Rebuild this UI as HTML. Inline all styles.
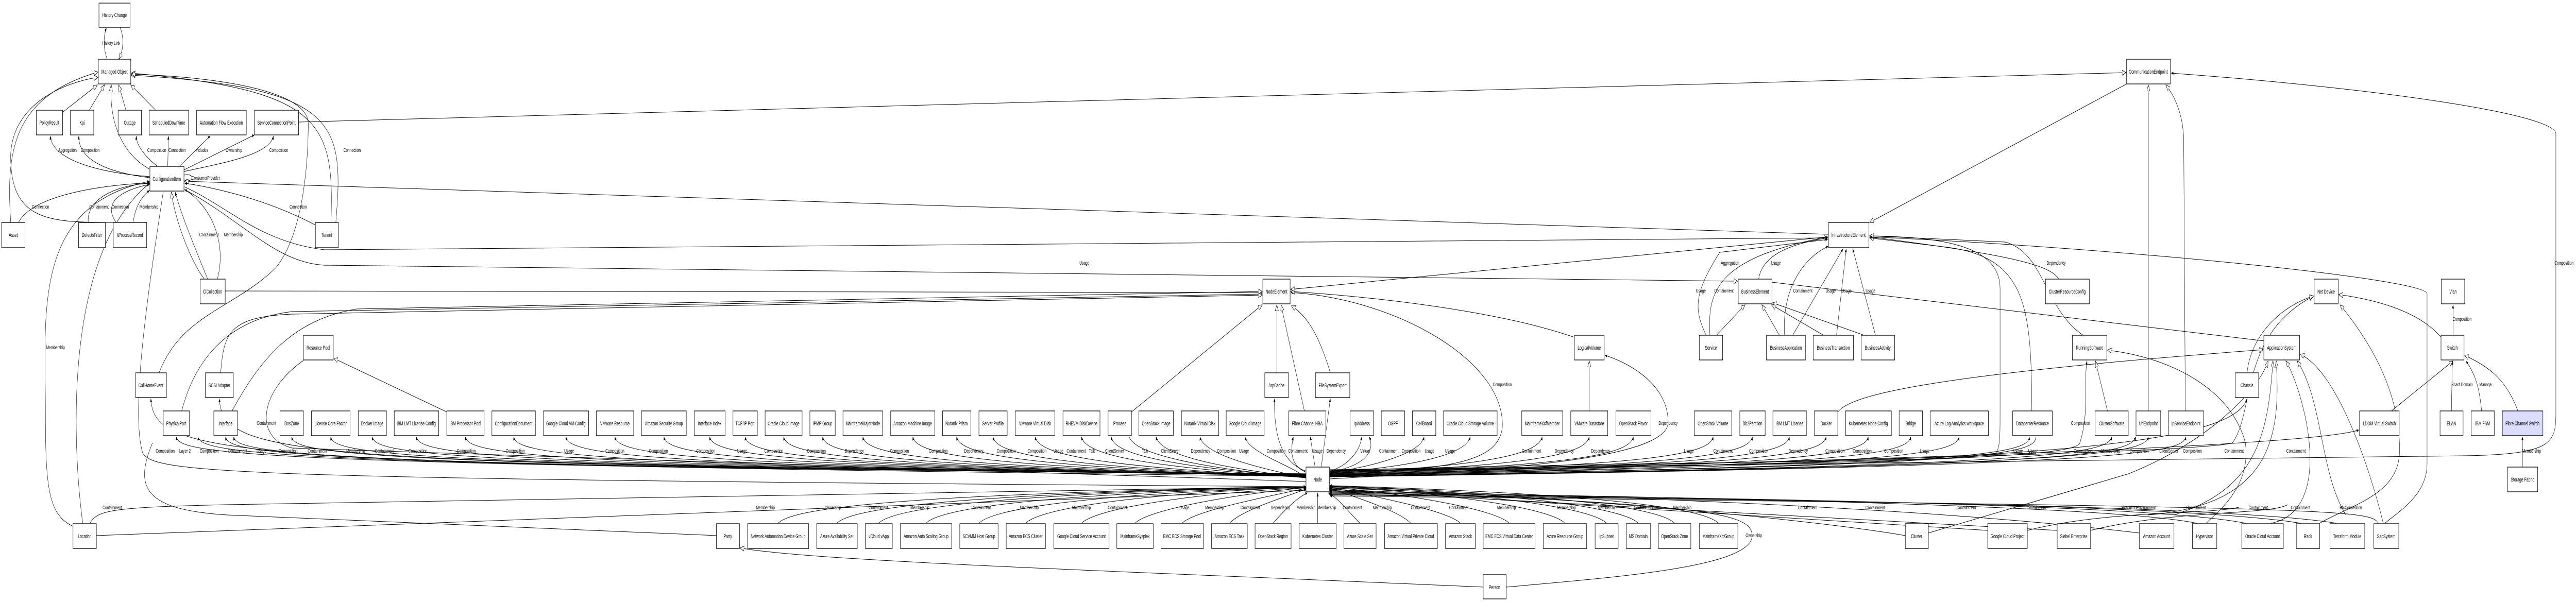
<!DOCTYPE html>
<html><head><meta charset="utf-8"><style>
html,body{margin:0;padding:0;background:#fff;overflow:hidden;width:100%;height:100%}
svg{display:block;width:100vw;height:100vh}
.b{fill:#fff;stroke:#000;stroke-width:1.3}
.t{font-family:"Liberation Sans",Arial,sans-serif;font-size:11px;text-anchor:middle;fill:#000}
.l{font-family:"Liberation Sans",Arial,sans-serif;font-size:10.5px;text-anchor:middle;fill:#000}
.e path,.e line{fill:none;stroke:#000;stroke-width:1}
</style></head><body>
<svg width="7939" height="1169" viewBox="0 0 7939 1169" preserveAspectRatio="none" xmlns="http://www.w3.org/2000/svg">
<defs>
<marker id="f" markerWidth="8" markerHeight="8" refX="7" refY="3" orient="auto" markerUnits="userSpaceOnUse"><path d="M0,0 L7,3 L0,6 z" fill="#000"/></marker>
<marker id="h" markerWidth="14" markerHeight="12" refX="12" refY="5" orient="auto" markerUnits="userSpaceOnUse"><path d="M0,0 L12,5 L0,10 z" fill="#fff" stroke="#000" stroke-width="1"/></marker>
</defs>
<rect width="7939" height="1169" fill="#fff"/>
<g class="e">
<path d="M330,115 C318,92 318,72 328,54" marker-end="url(#f)"/>
<path d="M370,53 C382,72 382,95 366,115" marker-end="url(#h)"/>
<path d="M193,218 L300,165" marker-end="url(#h)"/>
<path d="M275,214 L322,165" marker-end="url(#h)"/>
<path d="M388,214 L366,165" marker-end="url(#h)"/>
<path d="M480,214 L403,165" marker-end="url(#h)"/>
<path d="M460,328 C380,300 335,240 343,165" marker-end="url(#h)"/>
<path d="M33,432 C20,300 30,190 302,140" marker-end="url(#h)"/>
<path d="M352,432 C150,432 30,430 33,300 C40,200 200,160 302,150" marker-end="url(#h)"/>
<path d="M1020,432 C1030,240 1000,175 405,142" marker-end="url(#h)"/>
<path d="M1035,432 C1060,240 1050,170 405,146" marker-end="url(#h)"/>
<path d="M490,724 C560,610 720,600 850,520 C940,450 950,300 950,240 C950,180 700,150 405,144" marker-end="url(#h)"/>
<path d="M462,343 C300,335 160,310 155,264" marker-end="url(#f)"/>
<path d="M462,345 C330,335 240,310 243,264" marker-end="url(#f)"/>
<path d="M485,323 C440,300 420,280 420,264" marker-end="url(#f)"/>
<path d="M517,323 L519,264" marker-end="url(#f)"/>
<path d="M553,323 L648,264" marker-end="url(#f)"/>
<path d="M567,330 L784,262" marker-end="url(#f)"/>
<path d="M567,333 C700,315 830,300 843,264" marker-end="url(#f)"/>
<path d="M567,340 C600,335 600,355 569,350" marker-end="url(#f)"/>
<path d="M57,432 C100,380 300,360 461,355" marker-end="url(#f)"/>
<path d="M272,432 C265,380 380,358 461,356" marker-end="url(#f)"/>
<path d="M358,432 C300,380 430,362 461,358" marker-end="url(#f)"/>
<path d="M410,432 C420,390 450,375 461,370" marker-end="url(#f)"/>
<path d="M972,437 C800,380 620,360 569,356" marker-end="url(#f)"/>
<path d="M630,542 C590,510 540,430 528,373" marker-end="url(#h)"/>
<path d="M640,542 C600,480 560,420 540,373" marker-end="url(#f)"/>
<path d="M670,542 C700,470 650,400 569,368" marker-end="url(#f)"/>
<path d="M225,1022 C150,1000 140,950 140,800 C140,600 100,400 461,352" marker-end="url(#f)"/>
<path d="M255,1016 C230,900 180,500 461,356" marker-end="url(#f)"/>
<path d="M503,373 C460,550 400,800 440,880 C480,920 700,930 4025,945" />
<path d="M277,1016 C300,990 350,985 700,980 L4025,945" marker-end="url(#f)"/>
<path d="M297,1040 L4025,952"/>
<path d="M920,237 L6552,141" marker-end="url(#h)"/>
<path d="M5635,455 L569,352" marker-end="url(#h)"/>
<path d="M569,363 C700,400 800,470 1000,485 L5633,462" marker-end="url(#h)"/>
<path d="M569,368 C750,430 850,510 1000,515 L5355,546" marker-end="url(#h)"/>
<path d="M694,565 L3890,568" marker-end="url(#h)"/>
<path d="M560,798 C600,700 700,620 900,605 L3890,571" marker-end="url(#h)"/>
<path d="M680,724 C690,650 700,615 900,610 L3890,573" marker-end="url(#h)"/>
<path d="M715,798 C800,700 900,620 1100,600 L3890,566" marker-end="url(#h)"/>
<path d="M1377,800 L1029,696" marker-end="url(#h)"/>
<path d="M935,700 C800,760 780,850 900,870 L4025,935"/>
<path d="M2208,1040 L700,1000 C450,990 410,950 470,860"/>
<path d="M4571,1140 C3500,1110 2500,1090 2281,1064" marker-end="url(#h)"/>
<path d="M4642,1140 C5000,1120 5400,1100 5400,1040 C5400,990 5200,980 4098,950" marker-end="url(#f)"/>
<path d="M4025,920 C693,905 553,880 543,848" marker-end="url(#f)"/>
<path d="M4025,920 C800,905 620,880 610,848" marker-end="url(#f)"/>
<path d="M4025,920 C845,905 705,880 695,848" marker-end="url(#f)"/>
<path d="M4025,921 C900,905 730,880 720,848" marker-end="url(#f)"/>
<path d="M4025,921 C1049,905 909,880 899,848" marker-end="url(#f)"/>
<path d="M4025,921 C1169,905 1029,880 1019,848" marker-end="url(#f)"/>
<path d="M4025,922 C1297,905 1157,880 1147,848" marker-end="url(#f)"/>
<path d="M4025,922 C1433,905 1293,880 1283,848" marker-end="url(#f)"/>
<path d="M4025,922 C1584,905 1444,880 1434,848" marker-end="url(#f)"/>
<path d="M4025,923 C1733,905 1593,880 1583,848" marker-end="url(#f)"/>
<path d="M4025,923 C1894,905 1754,880 1744,848" marker-end="url(#f)"/>
<path d="M4025,923 C2045,905 1905,880 1895,848" marker-end="url(#f)"/>
<path d="M4025,924 C2196,905 2056,880 2046,848" marker-end="url(#f)"/>
<path d="M4025,924 C2337,905 2197,880 2187,848" marker-end="url(#f)"/>
<path d="M4025,924 C2446,905 2306,880 2296,848" marker-end="url(#f)"/>
<path d="M4025,925 C2565,905 2425,880 2415,848" marker-end="url(#f)"/>
<path d="M4025,925 C2685,905 2545,880 2535,848" marker-end="url(#f)"/>
<path d="M4025,925 C2809,905 2669,880 2659,848" marker-end="url(#f)"/>
<path d="M4025,926 C2963,905 2823,880 2813,848" marker-end="url(#f)"/>
<path d="M4025,926 C3098,905 2958,880 2948,848" marker-end="url(#f)"/>
<path d="M4025,926 C3210,905 3070,880 3060,848" marker-end="url(#f)"/>
<path d="M4025,927 C3340,905 3200,880 3190,848" marker-end="url(#f)"/>
<path d="M4025,927 C3483,905 3343,880 3333,848" marker-end="url(#f)"/>
<path d="M4025,927 C3580,905 3430,880 3425,848" marker-end="url(#f)"/>
<path d="M3480,848 C3500,890 3800,915 4025,928"/>
<path d="M4025,928 C3713,905 3573,880 3563,848" marker-end="url(#f)"/>
<path d="M4025,928 C3848,905 3708,880 3698,848" marker-end="url(#f)"/>
<path d="M4025,928 C3987,905 3847,880 3837,848" marker-end="url(#f)"/>
<path d="M4025,915 C3960,900 3925,860 3928,774" marker-end="url(#f)"/>
<path d="M4025,917 C3980,905 3975,880 3986,848" marker-end="url(#f)"/>
<path d="M4053,907 L4038,848" marker-end="url(#f)"/>
<path d="M4072,907 L4100,774" marker-end="url(#f)"/>
<path d="M4025,925 C700,900 475,890 465,774" marker-end="url(#f)"/>
<path d="M4025,922 C900,900 686,890 676,774" marker-end="url(#f)"/>
<path d="M4098,915 C4150,905 4190,880 4197,848" marker-end="url(#f)"/>
<path d="M4098,917 C4200,905 4240,880 4220,848" marker-end="url(#f)"/>
<path d="M4098,918 C4239,905 4379,880 4389,848" marker-end="url(#f)"/>
<path d="M4098,918 C4381,905 4521,880 4531,848" marker-end="url(#f)"/>
<path d="M4098,919 C4603,905 4743,880 4753,848" marker-end="url(#f)"/>
<path d="M4098,919 C4748,905 4888,880 4898,848" marker-end="url(#f)"/>
<path d="M4098,920 C4884,905 5024,880 5034,848" marker-end="url(#f)"/>
<path d="M4098,920 C5130,905 5270,880 5280,848" marker-end="url(#f)"/>
<path d="M4098,921 C5251,905 5391,880 5401,848" marker-end="url(#f)"/>
<path d="M4098,921 C5365,905 5505,880 5515,848" marker-end="url(#f)"/>
<path d="M4098,922 C5478,905 5618,880 5628,848" marker-end="url(#f)"/>
<path d="M4098,922 C5608,905 5748,880 5758,848" marker-end="url(#f)"/>
<path d="M4098,923 C5739,905 5879,880 5889,848" marker-end="url(#f)"/>
<path d="M4098,923 C5888,905 6028,880 6038,848" marker-end="url(#f)"/>
<path d="M4098,924 C6114,905 6254,880 6254,848" marker-end="url(#f)"/>
<path d="M4098,924 C6200,905 6270,880 6275,848"/>
<path d="M4098,925 C6358,905 6498,880 6508,848" marker-end="url(#f)"/>
<path d="M4098,925 C6471,905 6611,880 6621,848" marker-end="url(#f)"/>
<path d="M4098,926 C6587,905 6727,880 6737,848" marker-end="url(#f)"/>
<path d="M4098,926 C6500,905 6560,880 6583,848" marker-end="url(#f)"/>
<path d="M4098,915 C5500,900 7100,870 7270,835" marker-end="url(#f)"/>
<path d="M4098,916 C6000,900 6880,880 6925,774" marker-end="url(#f)"/>
<path d="M4098,912 L7600,885 C7870,882 7877,860 7877,800 L7877,260 C7877,220 7300,170 6691,142" marker-end="url(#f)"/>
<path d="M4098,918 C4500,915 4620,890 4630,830 C4640,700 4300,580 3978,568" marker-end="url(#f)"/>
<path d="M4098,930 C4500,915 5141,900 5141,820 C5141,740 5000,700 4946,690" marker-end="url(#f)"/>
<path d="M4098,914 C5000,895 6100,900 6150,880 C6164,870 6164,850 6164,800 L6164,560 C6164,480 6000,460 5762,458" marker-end="url(#h)"/>
<path d="M4098,915 C5800,900 6400,890 6410,860 C6440,800 6420,750 6432,701" marker-end="url(#f)"/>
<path d="M4098,914 C5000,905 6800,880 6880,860 C6950,800 6900,650 7130,575" marker-end="url(#h)"/>
<path d="M2398,1016 C2438,990 2698,960 4025,945" marker-end="url(#f)"/>
<path d="M2579,1016 C2619,990 2879,960 4025,945" marker-end="url(#f)"/>
<path d="M2708,1016 C2748,990 3008,960 4025,945" marker-end="url(#f)"/>
<path d="M2854,1016 C2894,990 3154,960 4025,946" marker-end="url(#f)"/>
<path d="M3017,1016 C3057,990 3317,960 4025,946" marker-end="url(#f)"/>
<path d="M3161,1016 C3201,990 3461,960 4025,946" marker-end="url(#f)"/>
<path d="M3333,1016 C3373,990 3633,960 4025,947" marker-end="url(#f)"/>
<path d="M3498,1016 C3538,990 3798,960 4025,947" marker-end="url(#f)"/>
<path d="M3643,1016 C3683,990 3943,960 4025,948" marker-end="url(#f)"/>
<path d="M3789,1016 C3829,990 3960,965 4025,950" marker-end="url(#f)"/>
<path d="M3923,1016 C3960,990 4000,965 4030,957" marker-end="url(#f)"/>
<path d="M4061,1016 L4061,957" marker-end="url(#f)"/>
<path d="M4191,1016 C4151,990 4120,965 4093,957" marker-end="url(#f)"/>
<path d="M4348,1016 C4308,990 4150,960 4098,948" marker-end="url(#f)"/>
<path d="M4501,1016 C4461,990 4201,960 4098,946" marker-end="url(#f)"/>
<path d="M4651,1016 C4611,990 4351,960 4098,946" marker-end="url(#f)"/>
<path d="M4823,1016 C4783,990 4523,960 4098,945" marker-end="url(#f)"/>
<path d="M4951,1016 C4911,990 4651,960 4098,945" marker-end="url(#f)"/>
<path d="M5049,1016 C5009,990 4749,960 4098,944" marker-end="url(#f)"/>
<path d="M5161,1016 C5121,990 4861,960 4098,944" marker-end="url(#f)"/>
<path d="M5296,1016 C5256,990 4996,960 4098,943" marker-end="url(#f)"/>
<path d="M5872,1040 C5500,1000 4600,955 4098,948" marker-end="url(#f)"/>
<path d="M6126,1030 L4098,950" marker-end="url(#f)"/>
<path d="M6340,1030 L4098,952" marker-end="url(#f)"/>
<path d="M6593,1035 C6000,990 5000,960 4098,954" marker-end="url(#f)"/>
<path d="M6770,1016 C6500,980 5000,962 4098,956" marker-end="url(#f)"/>
<path d="M6920,1016 C6600,975 5000,964 4098,958" marker-end="url(#f)"/>
<path d="M7090,1016 C6700,975 5000,966 4098,960" marker-end="url(#f)"/>
<path d="M7200,1016 C6800,975 5000,968 4098,961" marker-end="url(#f)"/>
<path d="M7330,1016 C7300,990 7280,985 4098,963" marker-end="url(#f)"/>
<path d="M6554,163 L5762,432" marker-end="url(#h)"/>
<path d="M6621,798 L6621,165" marker-end="url(#h)"/>
<path d="M6735,798 L6730,270 C6728,220 6700,185 6675,165" marker-end="url(#h)"/>
<path d="M3935,724 L3935,592" marker-end="url(#h)"/>
<path d="M4020,798 L3948,592" marker-end="url(#h)"/>
<path d="M4100,724 C4060,640 4020,610 3980,594" marker-end="url(#h)"/>
<path d="M3487,800 L3890,592" marker-end="url(#h)"/>
<path d="M4852,655 C4600,600 4200,575 3978,566" marker-end="url(#h)"/>
<path d="M5633,460 L3978,562" marker-end="url(#h)"/>
<path d="M4898,798 L4898,701" marker-end="url(#h)"/>
<path d="M5258,651 C5220,600 5220,570 5300,490 L5633,465" marker-end="url(#f)"/>
<path d="M5270,651 C5260,560 5300,500 5633,460" marker-end="url(#f)"/>
<path d="M5290,651 L5378,592" marker-end="url(#h)"/>
<path d="M5484,651 L5430,592" marker-end="url(#h)"/>
<path d="M5620,651 L5460,592" marker-end="url(#h)"/>
<path d="M5745,651 L5463,588" marker-end="url(#h)"/>
<path d="M5500,651 C5490,560 5560,500 5635,478" marker-end="url(#f)"/>
<path d="M5525,651 L5680,483" marker-end="url(#f)"/>
<path d="M5660,651 L5690,483" marker-end="url(#f)"/>
<path d="M5780,651 L5710,483" marker-end="url(#f)"/>
<path d="M5420,542 C5430,500 5500,475 5633,462" marker-end="url(#f)"/>
<path d="M5461,548 L6977,662"/>
<path d="M5664,800 C5700,770 5900,730 6975,679" marker-end="url(#h)"/>
<path d="M6262,798 C6260,600 6250,500 6000,480 L5762,462" marker-end="url(#h)"/>
<path d="M6420,651 C6300,600 6300,490 6180,470 L5762,458" marker-end="url(#h)"/>
<path d="M6345,542 C6320,515 6200,495 5762,460" marker-end="url(#f)"/>
<path d="M6495,798 L6458,701" marker-end="url(#h)"/>
<path d="M6800,1016 C6820,1000 6940,950 6920,860 C6880,760 6700,695 6495,680" marker-end="url(#h)"/>
<path d="M5762,460 C6500,480 7470,540 7480,570 L7480,900 C7480,960 7400,990 7350,1016"/>
<path d="M6925,724 C6940,640 7050,590 7130,575" marker-end="url(#h)"/>
<path d="M7523,655 C7450,600 7300,580 7208,572" marker-end="url(#h)"/>
<path d="M7149,1016 C7250,980 7390,960 7395,880 C7400,760 7300,660 7212,592" marker-end="url(#h)"/>
<path d="M6700,1000 C6950,950 6990,850 7005,701" marker-end="url(#h)"/>
<path d="M6620,1000 C7000,980 7030,850 7015,701" marker-end="url(#h)"/>
<path d="M7000,1016 C7200,990 7100,760 7045,701" marker-end="url(#h)"/>
<path d="M7230,1000 C7150,920 7160,780 7080,701" marker-end="url(#h)"/>
<path d="M7345,1016 C7300,900 7200,720 7089,688" marker-end="url(#h)"/>
<path d="M5943,1035 L6560,920 C6800,860 6960,760 6990,701" marker-end="url(#h)"/>
<path d="M6248,1030 C6500,990 6800,1000 6900,985"/>
<path d="M6443,1030 C6700,990 7000,1000 7050,980"/>
<path d="M7370,798 L7560,701" marker-end="url(#h)"/>
<path d="M7555,798 L7558,701" marker-end="url(#f)"/>
<path d="M7648,798 C7640,740 7620,720 7600,701" marker-end="url(#f)"/>
<path d="M7760,798 C7720,730 7660,710 7596,690" marker-end="url(#h)"/>
<path d="M7560,651 L7560,592" marker-end="url(#f)"/>
<path d="M7774,907 L7774,848" marker-end="url(#f)"/>
</g>
<g>
<rect class="b" x="305" y="6" width="96" height="47"/><text class="t" x="353" y="33">History Change</text>
<rect class="b" x="303" y="115" width="100" height="48"/><text class="t" x="353" y="143">Managed Object</text>
<rect class="b" x="6554" y="115" width="135" height="48"/><text class="t" x="6621" y="143">CommunicationEndpoint</text>
<rect class="b" x="112" y="214" width="81" height="48"/><text class="t" x="152" y="242">PolicyResult</text>
<rect class="b" x="217" y="214" width="72" height="48"/><text class="t" x="253" y="242">Kpi</text>
<rect class="b" x="364" y="214" width="72" height="48"/><text class="t" x="400" y="242">Outage</text>
<rect class="b" x="460" y="214" width="121" height="48"/><text class="t" x="520" y="242">ScheduledDowntime</text>
<rect class="b" x="606" y="214" width="153" height="48"/><text class="t" x="682" y="242">Automation Flow Execution</text>
<rect class="b" x="784" y="214" width="136" height="48"/><text class="t" x="852" y="242">ServiceConnectionPoint</text>
<rect class="b" x="462" y="323" width="105" height="48"/><text class="t" x="514" y="351">ConfigurationItem</text>
<rect class="b" x="5" y="432" width="72" height="49"/><text class="t" x="41" y="460">Asset</text>
<rect class="b" x="242" y="432" width="83" height="49"/><text class="t" x="283" y="460">DefectsFilter</text>
<rect class="b" x="349" y="432" width="103" height="49"/><text class="t" x="400" y="460">ItProcessRecord</text>
<rect class="b" x="972" y="432" width="71" height="49"/><text class="t" x="1007" y="460">Tenant</text>
<rect class="b" x="5635" y="432" width="125" height="49"/><text class="t" x="5697" y="460">InfrastructureElement</text>
<rect class="b" x="617" y="542" width="77" height="48"/><text class="t" x="655" y="570">CiCollection</text>
<rect class="b" x="3892" y="542" width="84" height="48"/><text class="t" x="3934" y="570">NodeElement</text>
<rect class="b" x="5357" y="542" width="104" height="48"/><text class="t" x="5409" y="570">BusinessElement</text>
<rect class="b" x="6304" y="542" width="135" height="48"/><text class="t" x="6371" y="570">ClusterResourceConfig</text>
<rect class="b" x="7132" y="542" width="74" height="48"/><text class="t" x="7169" y="570">Net Device</text>
<rect class="b" x="7524" y="542" width="72" height="48"/><text class="t" x="7560" y="570">Vlan</text>
<rect class="b" x="935" y="651" width="92" height="48"/><text class="t" x="981" y="679">Resource Pool</text>
<rect class="b" x="4852" y="651" width="92" height="48"/><text class="t" x="4898" y="679">LogicalVolume</text>
<rect class="b" x="5237" y="651" width="72" height="48"/><text class="t" x="5273" y="679">Service</text>
<rect class="b" x="5444" y="651" width="120" height="48"/><text class="t" x="5504" y="679">BusinessApplication</text>
<rect class="b" x="5588" y="651" width="124" height="48"/><text class="t" x="5650" y="679">BusinessTransaction</text>
<rect class="b" x="5736" y="651" width="103" height="48"/><text class="t" x="5787" y="679">BusinessActivity</text>
<rect class="b" x="6387" y="651" width="106" height="48"/><text class="t" x="6440" y="679">RunningSoftware</text>
<rect class="b" x="6977" y="651" width="110" height="48"/><text class="t" x="7032" y="679">ApplicationSystem</text>
<rect class="b" x="7523" y="651" width="71" height="48"/><text class="t" x="7558" y="679">Switch</text>
<rect class="b" x="418" y="724" width="95" height="48"/><text class="t" x="465" y="752">CallHomeEvent</text>
<rect class="b" x="633" y="724" width="86" height="48"/><text class="t" x="676" y="752">SCSI Adapter</text>
<rect class="b" x="3898" y="724" width="73" height="48"/><text class="t" x="3934" y="752">ArpCache</text>
<rect class="b" x="4054" y="724" width="106" height="48"/><text class="t" x="4107" y="752">FileSystemExport</text>
<rect class="b" x="6889" y="724" width="72" height="48"/><text class="t" x="6925" y="752">Chassis</text>
</g>
<g>
<rect class="b" x="503" y="798" width="81" height="48"/><text class="t" x="543" y="826">PhysicalPort</text>
<rect class="b" x="659" y="798" width="73" height="48"/><text class="t" x="695" y="826">Interface</text>
<rect class="b" x="863" y="798" width="72" height="48"/><text class="t" x="899" y="826">DnsZone</text>
<rect class="b" x="960" y="798" width="119" height="48"/><text class="t" x="1019" y="826">License Core Factor</text>
<rect class="b" x="1104" y="798" width="87" height="48"/><text class="t" x="1147" y="826">Docker Image</text>
<rect class="b" x="1215" y="798" width="137" height="48"/><text class="t" x="1283" y="826">IBM LMT License Config</text>
<rect class="b" x="1377" y="798" width="115" height="48"/><text class="t" x="1434" y="826">IBM Processor Pool</text>
<rect class="b" x="1516" y="798" width="134" height="48"/><text class="t" x="1583" y="826">ConfigurationDocument</text>
<rect class="b" x="1675" y="798" width="139" height="48"/><text class="t" x="1744" y="826">Google Cloud VM Config</text>
<rect class="b" x="1838" y="798" width="115" height="48"/><text class="t" x="1895" y="826">VMware Resource</text>
<rect class="b" x="1977" y="798" width="138" height="48"/><text class="t" x="2046" y="826">Amazon Security Group</text>
<rect class="b" x="2140" y="798" width="95" height="48"/><text class="t" x="2187" y="826">Interface Index</text>
<rect class="b" x="2259" y="798" width="75" height="48"/><text class="t" x="2296" y="826">TCP/IP Port</text>
<rect class="b" x="2358" y="798" width="114" height="48"/><text class="t" x="2415" y="826">Oracle Cloud Image</text>
<rect class="b" x="2496" y="798" width="78" height="48"/><text class="t" x="2535" y="826">IPMP Group</text>
<rect class="b" x="2598" y="798" width="122" height="48"/><text class="t" x="2659" y="826">MainframeMajorNode</text>
<rect class="b" x="2745" y="798" width="136" height="48"/><text class="t" x="2813" y="826">Amazon Machine Image</text>
<rect class="b" x="2905" y="798" width="87" height="48"/><text class="t" x="2948" y="826">Nutanix Prism</text>
<rect class="b" x="3017" y="798" width="87" height="48"/><text class="t" x="3060" y="826">Server Profile</text>
<rect class="b" x="3129" y="798" width="122" height="48"/><text class="t" x="3190" y="826">VMware Virtual Disk</text>
<rect class="b" x="3276" y="798" width="114" height="48"/><text class="t" x="3333" y="826">RHEVM DiskDevice</text>
<rect class="b" x="3415" y="798" width="72" height="48"/><text class="t" x="3451" y="826">Process</text>
<rect class="b" x="3510" y="798" width="106" height="48"/><text class="t" x="3563" y="826">OpenStack Image</text>
<rect class="b" x="3641" y="798" width="115" height="48"/><text class="t" x="3698" y="826">Nutanix Virtual Disk</text>
<rect class="b" x="3779" y="798" width="117" height="48"/><text class="t" x="3837" y="826">Google Cloud Image</text>
<rect class="b" x="3972" y="798" width="114" height="48"/><text class="t" x="4029" y="826">Fibre Channel HBA</text>
<rect class="b" x="4161" y="798" width="72" height="48"/><text class="t" x="4197" y="826">IpAddress</text>
<rect class="b" x="4257" y="798" width="72" height="48"/><text class="t" x="4293" y="826">OSPF</text>
<rect class="b" x="4353" y="798" width="72" height="48"/><text class="t" x="4389" y="826">CellBoard</text>
<rect class="b" x="4449" y="798" width="165" height="48"/><text class="t" x="4531" y="826">Oracle Cloud Storage Volume</text>
<rect class="b" x="4690" y="798" width="126" height="48"/><text class="t" x="4753" y="826">MainframeXcfMember</text>
<rect class="b" x="4841" y="798" width="114" height="48"/><text class="t" x="4898" y="826">VMware Datastore</text>
<rect class="b" x="4980" y="798" width="108" height="48"/><text class="t" x="5034" y="826">OpenStack Flavor</text>
<rect class="b" x="5222" y="798" width="115" height="48"/><text class="t" x="5279" y="826">OpenStack Volume</text>
<rect class="b" x="5362" y="798" width="78" height="48"/><text class="t" x="5401" y="826">Db2Partition</text>
<rect class="b" x="5464" y="798" width="103" height="48"/><text class="t" x="5515" y="826">IBM LMT License</text>
<rect class="b" x="5592" y="798" width="72" height="48"/><text class="t" x="5628" y="826">Docker</text>
<rect class="b" x="5688" y="798" width="141" height="48"/><text class="t" x="5758" y="826">Kubernetes Node Config</text>
<rect class="b" x="5853" y="798" width="72" height="48"/><text class="t" x="5889" y="826">Bridge</text>
<rect class="b" x="5949" y="798" width="179" height="48"/><text class="t" x="6038" y="826">Azure Log Analytics workspace</text>
<rect class="b" x="6203" y="798" width="122" height="48"/><text class="t" x="6264" y="826">DatacenterResource</text>
<rect class="b" x="6457" y="798" width="102" height="48"/><text class="t" x="6508" y="826">ClusterSoftware</text>
<rect class="b" x="6583" y="798" width="76" height="48"/><text class="t" x="6621" y="826">UriEndpoint</text>
<rect class="b" x="6683" y="798" width="108" height="48"/><text class="t" x="6737" y="826">IpServiceEndpoint</text>
<rect class="b" x="7272" y="798" width="122" height="48"/><text class="t" x="7333" y="826">LDOM Virtual Switch</text>
<rect class="b" x="7520" y="798" width="71" height="48"/><text class="t" x="7555" y="826">ELAN</text>
<rect class="b" x="7616" y="798" width="71" height="48"/><text class="t" x="7651" y="826">IBM FSM</text>
<rect class="b" x="7712" y="798" width="125" height="48" style="fill:#dcdcff"/><text class="t" x="7774" y="826">Fibre Channel Switch</text>
<rect class="b" x="4025" y="907" width="72" height="48"/><text class="t" x="4061" y="935">Node</text>
<rect class="b" x="7728" y="907" width="93" height="48"/><text class="t" x="7774" y="935">Storage Fabric</text>
</g>
<g>
<rect class="b" x="225" y="1017" width="72" height="48"/><text class="t" x="261" y="1045">Location</text>
<rect class="b" x="2208" y="1017" width="71" height="48"/><text class="t" x="2243" y="1045">Party</text>
<rect class="b" x="2304" y="1017" width="188" height="48"/><text class="t" x="2398" y="1045">Network Automation Device Group</text>
<rect class="b" x="2517" y="1017" width="125" height="48"/><text class="t" x="2579" y="1045">Azure Availability Set</text>
<rect class="b" x="2667" y="1017" width="83" height="48"/><text class="t" x="2708" y="1045">vCloud vApp</text>
<rect class="b" x="2775" y="1017" width="158" height="48"/><text class="t" x="2854" y="1045">Amazon Auto Scaling Group</text>
<rect class="b" x="2958" y="1017" width="118" height="48"/><text class="t" x="3017" y="1045">SCVMM Host Group</text>
<rect class="b" x="3101" y="1017" width="121" height="48"/><text class="t" x="3161" y="1045">Amazon ECS Cluster</text>
<rect class="b" x="3248" y="1017" width="170" height="48"/><text class="t" x="3333" y="1045">Google Cloud Service Account</text>
<rect class="b" x="3442" y="1017" width="112" height="48"/><text class="t" x="3498" y="1045">MainframeSysplex</text>
<rect class="b" x="3578" y="1017" width="131" height="48"/><text class="t" x="3643" y="1045">EMC ECS Storage Pool</text>
<rect class="b" x="3734" y="1017" width="110" height="48"/><text class="t" x="3789" y="1045">Amazon ECS Task</text>
<rect class="b" x="3868" y="1017" width="111" height="48"/><text class="t" x="3923" y="1045">OpenStack Region</text>
<rect class="b" x="4004" y="1017" width="114" height="48"/><text class="t" x="4061" y="1045">Kubernetes Cluster</text>
<rect class="b" x="4142" y="1017" width="99" height="48"/><text class="t" x="4191" y="1045">Azure Scale Set</text>
<rect class="b" x="4267" y="1017" width="163" height="48"/><text class="t" x="4348" y="1045">Amazon Virtual Private Cloud</text>
<rect class="b" x="4455" y="1017" width="92" height="48"/><text class="t" x="4501" y="1045">Amazon Stack</text>
<rect class="b" x="4571" y="1017" width="160" height="48"/><text class="t" x="4651" y="1045">EMC ECS Virtual Data Center</text>
<rect class="b" x="4756" y="1017" width="134" height="48"/><text class="t" x="4823" y="1045">Azure Resource Group</text>
<rect class="b" x="4916" y="1017" width="71" height="48"/><text class="t" x="4951" y="1045">IpSubnet</text>
<rect class="b" x="5012" y="1017" width="75" height="48"/><text class="t" x="5049" y="1045">MS Domain</text>
<rect class="b" x="5111" y="1017" width="100" height="48"/><text class="t" x="5161" y="1045">OpenStack Zone</text>
<rect class="b" x="5237" y="1017" width="119" height="48"/><text class="t" x="5296" y="1045">MainframeXcfGroup</text>
<rect class="b" x="5872" y="1017" width="71" height="48"/><text class="t" x="5907" y="1045">Cluster</text>
<rect class="b" x="6126" y="1017" width="122" height="48"/><text class="t" x="6187" y="1045">Google Cloud Project</text>
<rect class="b" x="6340" y="1017" width="103" height="48"/><text class="t" x="6391" y="1045">Siebel Enterprise</text>
<rect class="b" x="6593" y="1017" width="107" height="48"/><text class="t" x="6646" y="1045">Amazon Account</text>
<rect class="b" x="6757" y="1017" width="75" height="48"/><text class="t" x="6794" y="1045">Hypervisor</text>
<rect class="b" x="6909" y="1017" width="128" height="48"/><text class="t" x="6973" y="1045">Oracle Cloud Account</text>
<rect class="b" x="7077" y="1017" width="72" height="48"/><text class="t" x="7113" y="1045">Rack</text>
<rect class="b" x="7181" y="1017" width="107" height="48"/><text class="t" x="7234" y="1045">Terraform Module</text>
<rect class="b" x="7316" y="1017" width="77" height="48"/><text class="t" x="7354" y="1045">SapSystem</text>
<rect class="b" x="4571" y="1116" width="71" height="47"/><text class="t" x="4606" y="1144">Person</text>
</g>
<g class="l">
<text x="343" y="87">History Link</text>
<text x="208" y="295">Aggregation</text><text x="278" y="295">Composition</text><text x="483" y="295">Composition</text><text x="546" y="295">Connection</text><text x="622" y="295">Includes</text><text x="721" y="295">Ownership</text><text x="859" y="295">Composition</text><text x="1085" y="295">Connection</text>
<text x="634" y="349">ConsumerProvider</text>
<text x="125" y="405">Connection</text><text x="305" y="405">Containment</text><text x="371" y="405">Connection</text><text x="459" y="405">Membership</text><text x="919" y="405">Connection</text>
<text x="644" y="459">Containment</text><text x="719" y="459">Membership</text>
<text x="3342" y="514">Usage</text><text x="5332" y="514">Aggregation</text><text x="5473" y="514">Usage</text><text x="6337" y="514">Dependency</text><text x="7902" y="514">Composition</text>
<text x="5242" y="568">Usage</text><text x="5313" y="568">Containment</text><text x="5556" y="568">Containment</text><text x="5642" y="568">Usage</text><text x="5691" y="568">Usage</text><text x="5765" y="568">Usage</text>
<text x="7588" y="623">Composition</text>
<text x="171" y="678">Membership</text>
<text x="4630" y="750">Composition</text><text x="7588" y="750">Bcast Domain</text><text x="7660" y="750">Manage</text>
<text x="821" y="825">Containment</text><text x="5141" y="825">Dependency</text><text x="6412" y="825">Composition</text>
<text x="509" y="879">Composition</text><text x="570" y="879">Layer 2</text><text x="645" y="879">Composition</text><text x="732" y="879">Containment</text><text x="806" y="879">Usage</text><text x="888" y="879">Composition</text><text x="978" y="879">Containment</text><text x="1096" y="879">Membership</text><text x="1185" y="879">Containment</text><text x="1288" y="879">Composition</text>
<text x="1437" y="879">Composition</text><text x="1588" y="879">Composition</text><text x="1754" y="879">Usage</text><text x="1895" y="879">Composition</text><text x="2029" y="879">Composition</text><text x="2175" y="879">Composition</text><text x="2287" y="879">Usage</text><text x="2385" y="879">Composition</text><text x="2516" y="879">Composition</text><text x="2633" y="879">Dependency</text>
<text x="2772" y="879">Composition</text><text x="2892" y="879">Composition</text><text x="3001" y="879">Dependency</text><text x="3101" y="879">Composition</text><text x="3196" y="879">Composition</text><text x="3262" y="879">Usage</text><text x="3317" y="879">Containment</text><text x="3365" y="879">Talk</text><text x="3435" y="879">ClientServer</text><text x="3529" y="879">Talk</text><text x="3607" y="879">ClientServer</text><text x="3700" y="879">Dependency</text><text x="3780" y="879">Composition</text><text x="3834" y="879">Usage</text>
<text x="3933" y="879">Composition</text><text x="4000" y="879">Containment</text><text x="4061" y="879">Usage</text><text x="4118" y="879">Dependency</text><text x="4207" y="879">Virtual</text><text x="4280" y="879">Containment</text><text x="4349" y="879">Composition</text><text x="4406" y="879">Usage</text><text x="4469" y="879">Usage</text><text x="4720" y="879">Containment</text><text x="4821" y="879">Dependency</text><text x="4933" y="879">Dependency</text><text x="5205" y="879">Usage</text><text x="5310" y="879">Containment</text><text x="5420" y="879">Composition</text><text x="5542" y="879">Dependency</text><text x="5655" y="879">Composition</text><text x="5739" y="879">Composition</text><text x="5836" y="879">Composition</text><text x="5932" y="879">Usage</text><text x="6219" y="879">Usage</text><text x="6266" y="879">Usage</text><text x="6420" y="879">Composition</text><text x="6505" y="879">Membership</text><text x="6593" y="879">Composition</text><text x="6684" y="879">ClientServer</text><text x="6757" y="879">Composition</text><text x="6885" y="879">Containment</text><text x="7076" y="879">Containment</text><text x="7802" y="879">Membership</text>
<text x="346" y="989">Containment</text><text x="2359" y="989">Membership</text><text x="2567" y="989">Ownership</text><text x="2707" y="989">Containment</text><text x="2835" y="989">Membership</text><text x="3024" y="989">Containment</text><text x="3172" y="989">Membership</text><text x="3333" y="989">Membership</text><text x="3444" y="989">Containment</text><text x="3650" y="989">Usage</text><text x="3743" y="989">Membership</text><text x="3853" y="989">Containment</text><text x="3946" y="989">Dependency</text><text x="4025" y="989">Membership</text><text x="4089" y="989">Membership</text><text x="4168" y="989">Containment</text><text x="4260" y="989">Membership</text><text x="4378" y="989">Containment</text><text x="4496" y="989">Containment</text><text x="4643" y="989">Membership</text><text x="4828" y="989">Membership</text><text x="4953" y="989">Membership</text><text x="5065" y="989">Containment</text><text x="5184" y="989">Membership</text><text x="5571" y="989">Containment</text><text x="5779" y="989">Containment</text><text x="6060" y="989">Containment</text><text x="6276" y="989">Containment</text><text x="6591" y="989">ExecutionEnvironment</text><text x="6768" y="989">Containment</text><text x="6960" y="989">Containment</text><text x="7090" y="989">Containment</text><text x="7245" y="989">RfcConnection</text>
<text x="5405" y="1043">Ownership</text>
</g>
</svg>
</body></html>
